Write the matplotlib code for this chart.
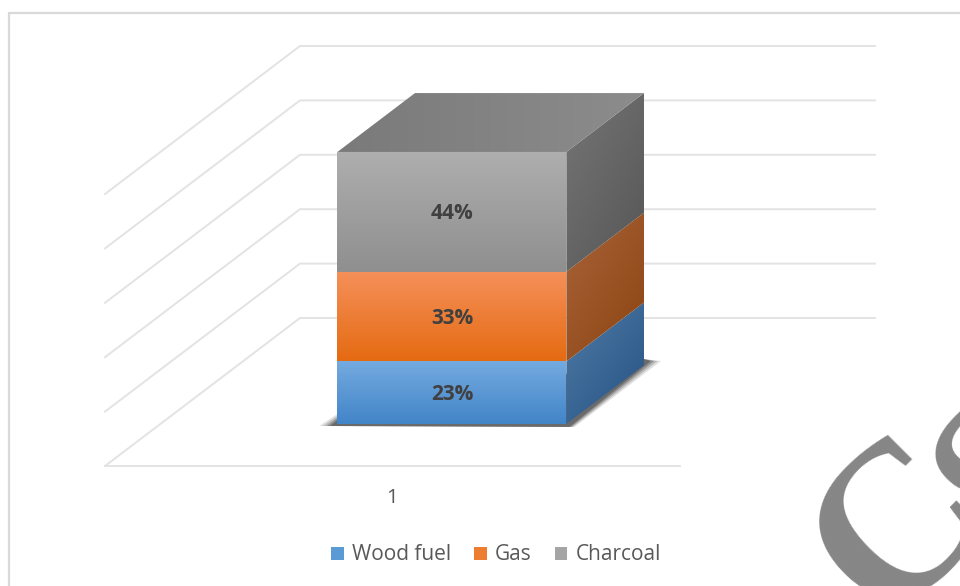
import numpy as np
import matplotlib
matplotlib.use('Agg')
import matplotlib.pyplot as plt
from matplotlib.patches import Patch, Polygon
from matplotlib.colors import LinearSegmentedColormap

plt.rcParams['font.family'] = ['Open Sans', 'DejaVu Sans']

# data
categories = ['Wood fuel', 'Gas', 'Charcoal']
values = [23, 33, 44]
value_labels = ['23%', '33%', '44%']
grid_values = [0, 20, 40, 60, 80, 100]
x_label = '1'

# colours: front top/bottom, side light/dark
front_colors = [('#74aae0', '#4285c8'), ('#f5905a', '#e56b12'), ('#aeaeae', '#8f8f8f')]
side_colors = [('#517ba6', '#245284'), ('#a8643a', '#8c4310'), ('#757575', '#565656')]
legend_colors = ['#5b9bd5', '#ed7d31', '#a5a5a5']
top_colors = ('#7a7a7a', '#8c8c8c')
grid_color = '#e3e3e3'

# oblique projection, everything is in pixels of the figure
X0, Y0 = 105, 466
DX, DY = 195, 148
PX_PER_PCT = 2.72
FLOOR_W = 575
BAR_X0, BAR_X1 = 177, 406
BAR_D0, BAR_D1 = 0.284, 0.682


def proj(x, v, d):
    return (X0 + x + d * DX, Y0 - v * PX_PER_PCT - d * DY)


def gradient_poly(ax, pts, c0, c1, angle=90, z=3):
    # fill a polygon with a linear gradient through a clipped image
    pts = np.array(pts)
    cmap = LinearSegmentedColormap.from_list('g', [c0, c1])
    xx, yy = np.meshgrid(np.linspace(0, 1, 64), np.linspace(0, 1, 64))
    a = np.deg2rad(angle)
    g = xx * np.cos(a) + yy * np.sin(a)
    g = (g - g.min()) / (g.max() - g.min())
    ext = (pts[:, 0].min(), pts[:, 0].max(), pts[:, 1].max(), pts[:, 1].min())
    im = ax.imshow(g, extent=ext, cmap=cmap, origin='upper', aspect='auto', zorder=z,
                   interpolation='bilinear')
    p = Polygon(pts, closed=True, transform=ax.transData, fc='none', ec='none')
    ax.add_patch(p)
    im.set_clip_path(p)


fig = plt.figure(figsize=(9.6, 5.86), dpi=100)
ax = fig.add_axes([0, 0, 1, 1])

# outer chart border
ax.plot([9, 9, 960], [586, 13, 13], color='#d9d9d9', lw=1.6, zorder=1)

# walls and floor gridlines
for g in grid_values:
    pts = [proj(0, g, 0), proj(0, g, 1), proj(FLOOR_W, g, 1)]
    ax.plot(*zip(*pts), color=grid_color, lw=1.4, zorder=1, solid_joinstyle='miter')
ax.plot(*zip(proj(0, 0, 0), proj(FLOOR_W, 0, 0)), color=grid_color, lw=1.4, zorder=1)

# soft shadow on the floor
fl = [proj(BAR_X0, 0, BAR_D0), proj(BAR_X1, 0, BAR_D0), proj(BAR_X1, 0, BAR_D1), proj(BAR_X0, 0, BAR_D1)]
for k, a in zip([1.0, 0.8, 0.6, 0.4], [0.15, 0.2, 0.3, 0.4]):
    sh = [(fl[0][0] - 18 * k, fl[0][1] + 2), (fl[0][0], fl[0][1] - 10 * k),
          (fl[2][0], fl[2][1] - 6), (fl[2][0] + 17 * k, fl[2][1] - 4),
          (fl[1][0] + 8 * k, fl[1][1] + 3)]
    ax.add_patch(Polygon(sh, closed=True, fc='#303030', ec='none', alpha=a, zorder=2))

# stacked box, drawn from the values
bottom = 0
for i, v in enumerate(values):
    top = bottom + v
    front = [proj(BAR_X0, top, BAR_D0), proj(BAR_X1, top, BAR_D0),
             proj(BAR_X1, bottom, BAR_D0), proj(BAR_X0, bottom, BAR_D0)]
    side = [proj(BAR_X1, top, BAR_D0), proj(BAR_X1, top, BAR_D1),
            proj(BAR_X1, bottom, BAR_D1), proj(BAR_X1, bottom, BAR_D0)]
    gradient_poly(ax, front, *front_colors[i], angle=90)
    gradient_poly(ax, side, *side_colors[i], angle=50)
    cx, cy = proj((BAR_X0 + BAR_X1) / 2, bottom + v / 2, BAR_D0)
    ax.text(cx, cy + 2, value_labels[i], ha='center', va='center', fontsize=15,
            fontweight='bold', color='#404040', zorder=6)
    bottom = top

roof = [proj(BAR_X0, bottom, BAR_D0), proj(BAR_X1, bottom, BAR_D0),
        proj(BAR_X1, bottom, BAR_D1), proj(BAR_X0, bottom, BAR_D1)]
gradient_poly(ax, roof, *top_colors, angle=0)

# category label
ax.text(392, 498, x_label, ha='center', va='center', fontsize=14.5, color='#595959', zorder=6)

# legend
handles = [Patch(fc=c, ec='none', label=n) for c, n in zip(legend_colors, categories)]
ax.legend(handles=handles, ncol=3, loc='center', bbox_to_anchor=(496 / 960, 1 - 555 / 586),
          frameon=False, fontsize=15, labelcolor='#595959', handlelength=0.6, handleheight=0.6,
          handletextpad=0.4, columnspacing=1.1, borderpad=0)

# watermark letters, the reference cuts them at the picture edge too
ax.text(903, 530, 'C', rotation=45, rotation_mode='anchor', ha='center', va='center',
        family='Liberation Serif', fontweight='bold', fontsize=158, color='#868686', zorder=7)
ax.text(1016, 474, 'S', rotation=45, rotation_mode='anchor', ha='center', va='center',
        family='Liberation Serif', fontweight='bold', fontsize=158, color='#868686', zorder=7)

ax.set_xlim(0, 960)
ax.set_ylim(586, 0)
ax.axis('off')

fig.savefig('out.png', dpi=100)
